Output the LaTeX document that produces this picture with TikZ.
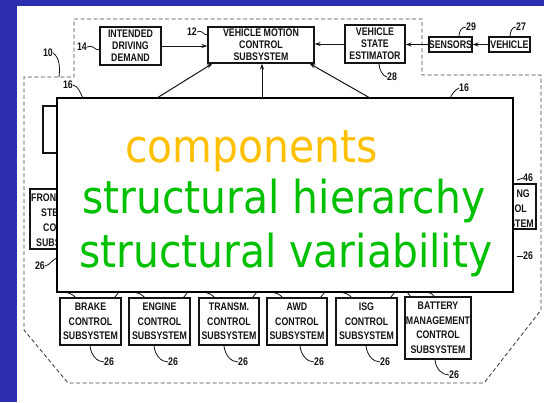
\documentclass[tikz,border=0pt]{standalone}
\usepackage{fontspec}
\usetikzlibrary{arrows.meta}
\newfontfamily\patfont[FakeStretch=0.8]{Liberation Sans}
\newfontfamily\ovfont[FakeStretch=0.9]{DejaVu Sans}
\definecolor{bgblue}{RGB}{46,46,176}
\definecolor{ink}{RGB}{20,20,20}
\definecolor{dashink}{RGB}{70,70,70}
\definecolor{compcol}{RGB}{255,192,0}
\definecolor{structcol}{RGB}{0,192,0}
\begin{document}
\begin{tikzpicture}[x=1pt,y=-1pt,
  box/.style={draw=ink, line width=1.1pt, inner sep=0pt, align=center, text=ink,
    font=\patfont\bfseries\fontsize{11}{12}\selectfont},
  lowbox/.style={box, font=\patfont\bfseries\fontsize{11}{14.5}\selectfont},
  num/.style={inner sep=0pt, text=ink, font=\patfont\bfseries\fontsize{11}{12}\selectfont},
  frag/.style={inner sep=0pt, text=ink, font=\patfont\bfseries\fontsize{11}{12}\selectfont},
  lead/.style={draw=ink, line width=0.8pt},
  conn/.style={draw=ink, line width=1pt, -{Stealth[length=6pt,width=4pt]}},
  bound/.style={draw=dashink, line width=0.9pt, dash pattern=on 4pt off 2.5pt},
  overlay/.style={draw=black, line width=1.2pt, fill=white, inner sep=0pt},
  ovtext/.style={inner sep=0pt, anchor=base west, font=\ovfont\fontsize{45.4}{50}\selectfont}]
\useasboundingbox (0,0) rectangle (544,402);
% background
\fill[bgblue] (0,0) rectangle (544,402);
\fill[white] (17,6) rectangle (544,402);
% system boundary 10
\draw[bound] (74,19) -- (422,19) -- (422,75) -- (541,75) -- (541,310) -- (484,383)
  -- (68,383) -- (24,330) -- (24,77) -- (74,77) -- cycle;
% top row
\node[box, minimum width=61pt, minimum height=38pt] (idd) at (130.5,46) {INTENDED\\DRIVING\\DEMAND};
\node[box, minimum width=106pt, minimum height=36pt] (vmcs) at (261,45) {VEHICLE MOTION\\CONTROL\\SUBSYSTEM};
\node[box, minimum width=60pt, minimum height=38pt] (vse) at (375,44) {VEHICLE\\STATE\\ESTIMATOR};
\node[box, minimum width=43pt, minimum height=15pt] (sens) at (450.5,44.5) {SENSORS};
\node[box, minimum width=41pt, minimum height=15pt] (veh) at (509.5,44.5) {VEHICLE};
\draw[conn] (idd.east) -- (vmcs.west |- idd.east);
\draw[conn] (vse.west) -- (vmcs.east |- vse.west);
\draw[conn] (sens.west) -- (vse.east |- sens.west);
\draw[conn] (veh.west) -- (sens.east);
% reference numerals, top
\node[num] (n10) at (48,53) {10};
\coordinate (c10) at (59,77);
\draw[lead] (n10.east) .. controls (60,58) and (60,68) .. (c10);
\node[num] (n14) at (82,47) {14};
\draw[lead] (n14.east) .. controls (93,44) and (94,50) .. (idd.west |- 0,50);
\node[num] (n12) at (192,32) {12};
\draw[lead] (n12.east) .. controls (202,29) and (203,35) .. (vmcs.west |- 0,35);
\node[num] (n28) at (392,77) {28};
\draw[lead] (n28.west) .. controls (383,76) and (379,70) .. (vse.south -| 379,0);
\node[num] (n29) at (471,27) {29};
\draw[lead] (n29.west) .. controls (461,27) and (459,32) .. (sens.north -| 459,0);
\node[num] (n27) at (521,27) {27};
\draw[lead] (n27.west) .. controls (512,27) and (510,32) .. (veh.north -| 510,0);
% boxes partly hidden by the overlay
\draw[draw=ink, line width=1.1pt] (80,106) -- (43,106) -- (43,153) -- (80,153);
\node[box, minimum width=66pt, minimum height=60pt] (front) at (63,219) {};
\node[frag, anchor=base west] (f1) at (31,201) {FRONT};
\node[frag, anchor=base west] (f2) at (41,216) {STE};
\node[frag, anchor=base west] (f3) at (43,231) {CO};
\node[frag, anchor=base west] (f4) at (36,246) {SUBS};
\node[box, minimum width=58pt, minimum height=45pt] (rear) at (507,206.5) {};
\node[frag, anchor=base east] (r1) at (530,197) {NG};
\node[frag, anchor=base east] (r2) at (527,212) {OL};
\node[frag, anchor=base east] (r3) at (534,227) {STEM};
\node[num] (n26f) at (40,266) {26};
\coordinate (c26f) at (57,258);
\draw[lead] (n26f.east) .. controls (50,265) and (53,259) .. (c26f);
\node[num, anchor=west] (n46) at (523,178) {46};
\draw[lead] (n46.west) -- ++(-6,2);
\node[num, anchor=west] (n26r) at (523,256) {26};
\draw[lead] (n26r.west) -- ++(-6,0);
% bottom row
\node[lowbox, minimum width=61pt, minimum height=47pt] (brake) at (90.5,321.5) {BRAKE\\CONTROL\\SUBSYSTEM};
\node[lowbox, minimum width=61pt, minimum height=47pt] (engine) at (159.5,321.5) {ENGINE\\CONTROL\\SUBSYSTEM};
\node[lowbox, minimum width=60pt, minimum height=47pt] (transm) at (229,321.5) {TRANSM.\\CONTROL\\SUBSYSTEM};
\node[lowbox, minimum width=60pt, minimum height=47pt] (awd) at (297,321.5) {AWD\\CONTROL\\SUBSYSTEM};
\node[lowbox, minimum width=61pt, minimum height=47pt] (isg) at (366.5,321.5) {ISG\\CONTROL\\SUBSYSTEM};
\node[lowbox, minimum width=66pt, minimum height=62pt] (batt) at (438,328) {BATTERY\\MANAGEMENT\\CONTROL\\SUBSYSTEM};
\foreach \n/\x in {brake/90,engine/154,transm/224,awd/300,isg/366} {
  \coordinate (\n-l) at (\x,346);
  \node[num, anchor=west] (\n-26) at (\x+14,362) {26};
  \draw[lead] (\n-l) .. controls +(1,9) and +(-7,0) .. (\n-26.west);
}
\coordinate (batt-l) at (435,360);
\node[num, anchor=west] (batt-26) at (449,375) {26};
\draw[lead] (batt-l) .. controls +(1,9) and +(-7,0) .. (batt-26.west);
% small leaders and links above the bottom boxes
\foreach \L/\R in {60/121,129/190,199/259,267/327,336/397} {
  \draw[lead] (\L+4,292) .. controls (\L+9,293) and (\L+13,294) .. (\L+16,298);
  \draw[lead] (\R-7,298) -- (\R-2,292);
}
\draw[lead] (407,292) -- (411,297);
\draw[lead] (428,292) .. controls (431,293) and (433,295) .. (435,297);
% overlay box (16) and its links to the motion control subsystem
\node[overlay, minimum width=456pt, minimum height=194pt] (ov) at (285,195) {};
\coordinate (o1) at (157,98);
\coordinate (o2) at (262,98);
\coordinate (o3) at (370,98);
\draw[conn] (o1) -- ([xshift=5pt]vmcs.south west);
\draw[conn] (o2) -- (vmcs.south -| o2);
\draw[conn] (o3) -- ([xshift=-5pt]vmcs.south east);
\node[num] (n16a) at (68,85) {16};
\draw[lead] (n16a.east) .. controls (78,86) and (80,92) .. (83,98);
\node[num] (n16b) at (464,88) {16};
\draw[lead] (n16b.west) .. controls (455,90) and (452,94) .. (450,98);
% overlay text
\node[ovtext, text=compcol] (t1) at (125,162) {components};
\node[ovtext, text=structcol] (t2) at (82,213) {structural hierarchy};
\node[ovtext, text=structcol] (t3) at (79,267) {structural variability};
\end{tikzpicture}
\end{document}
